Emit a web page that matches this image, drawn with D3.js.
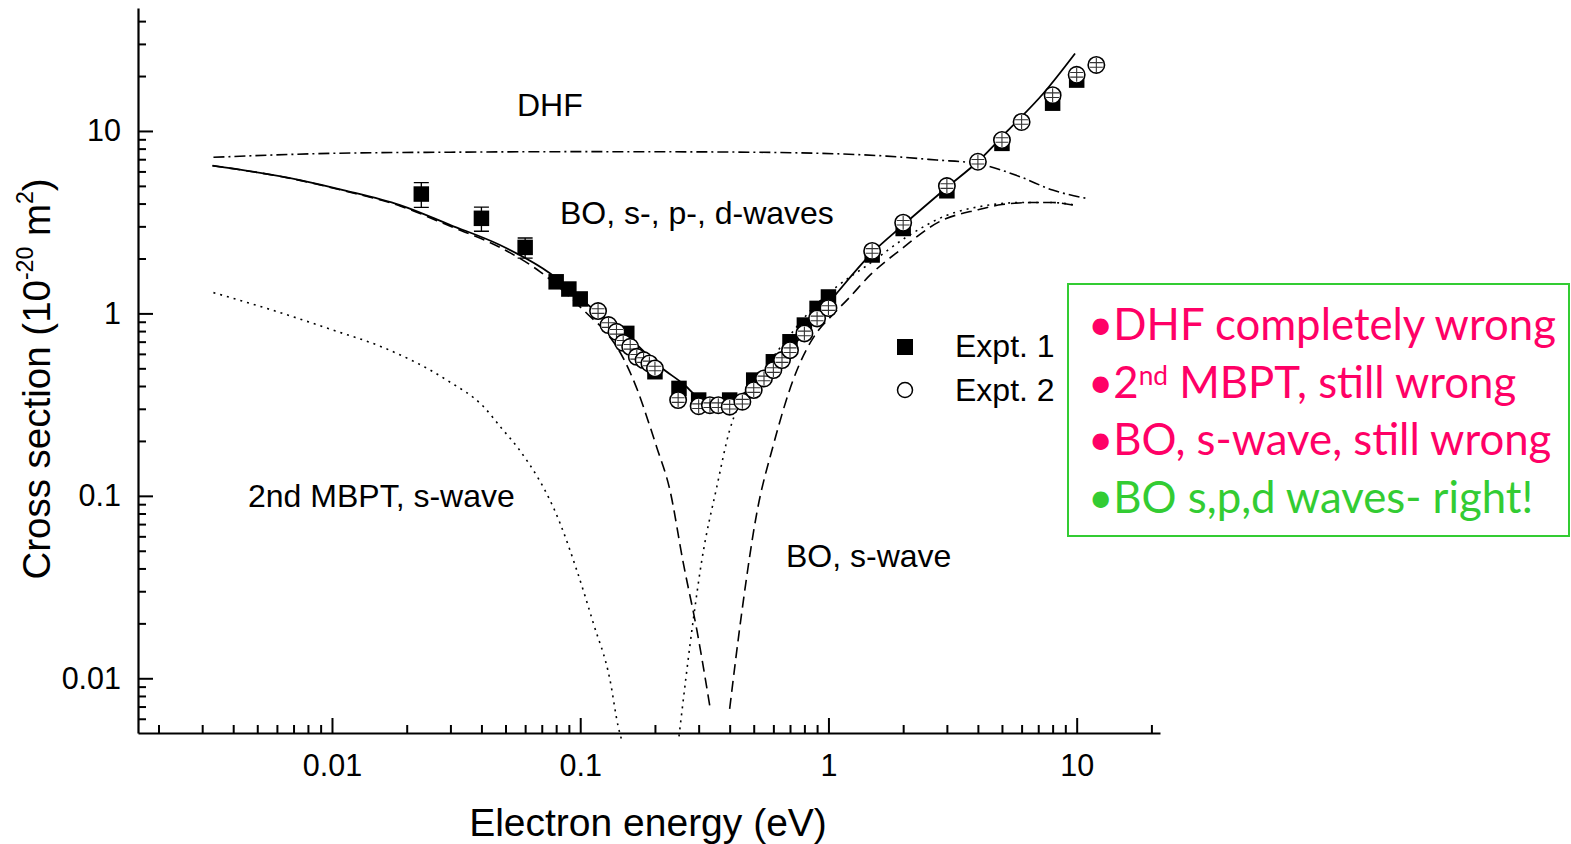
<!DOCTYPE html>
<html><head><meta charset="utf-8">
<script src="https://cdn.jsdelivr.net/npm/d3@7"></script>
<style>body{margin:0;background:#fff;} svg{display:block;}</style>
</head><body><svg id="c" width="1571" height="844"></svg>
<script>
// ---------- data (energy eV, cross section 1e-20 m^2) ----------
const xMajorTicks = [0.01, 0.1, 1, 10];
const yMajorTicks = [0.01, 0.1, 1, 10];
const xMinorTicks = [0.002,0.003,0.004,0.005,0.006,0.007,0.008,0.009,0.02,0.03,0.04,0.05,0.06,0.07,0.08,0.09,0.2,0.3,0.4,0.5,0.6,0.7,0.8,0.9,2,3,4,5,6,7,8,9,20];
const yMinorTicks = [0.006,0.007,0.008,0.009,0.02,0.03,0.04,0.05,0.06,0.07,0.08,0.09,0.2,0.3,0.4,0.5,0.6,0.7,0.8,0.9,2,3,4,5,6,7,8,9,20,30,40];

// Expt. 1 : [E, sigma, error]
const expt1 = [[0.0229,4.51,0.70],[0.040,3.32,0.50],[0.060,2.30,0.29],[0.080,1.49,0],[0.090,1.36,0],[0.100,1.20,0],
  [0.154,0.777,0],[0.200,0.479,0],[0.25,0.388,0],[0.30,0.335,0],[0.40,0.335,0],[0.5,0.431,0],[0.6,0.543,0],
  [0.7,0.699,0],[0.8,0.863,0],[0.9,1.065,0],[1.0,1.23,0],[1.5,2.09,0],[2.0,2.92,0],[3.0,4.70,0],[5.0,8.55,0],[8.0,14.2,0],[10,19.0,0]];
// Expt. 2 : [E, sigma]
const expt2 = [[0.118,1.03],[0.13,0.863],[0.14,0.793],[0.149,0.69],[0.159,0.656],[0.169,0.578],[0.18,0.555],[0.19,0.532],
  [0.2,0.499],[0.248,0.335],[0.3,0.31],[0.333,0.314],[0.36,0.314],[0.4,0.308],[0.45,0.328],[0.5,0.38],[0.55,0.44],
  [0.6,0.489],[0.65,0.555],[0.7,0.629],[0.8,0.777],[0.9,0.939],[1.0,1.07],[1.5,2.2],[2.0,3.14],[3.0,4.99],[4.0,6.78],
  [5.0,8.92],[6.0,11.2],[8.0,15.7],[10,20.3],[12,23.0]];

// theory curves
const boSPD = [[0.0033,6.45],[0.00743,5.38],[0.0111,4.74],[0.0188,3.92],[0.03,3.05],[0.0475,2.37],[0.0755,1.66],
  [0.1095,1.09],[0.154,0.76],[0.21,0.51],[0.264,0.404],[0.3,0.345],[0.35,0.325],[0.4,0.332],[0.5,0.40],[0.6,0.50],
  [0.7,0.63],[0.8,0.79],[0.92,1.0],[1.0,1.14],[1.5,2.15],[2,3.05],[3,4.9],[4,6.8],[5.3,10.1],[7.35,16.1],[9.85,26.6]];
const boSLeft = [[0.0033,6.45],[0.00743,5.36],[0.0111,4.71],[0.0188,3.88],[0.03,3.0],[0.0475,2.3],[0.069,1.69],
  [0.108,0.98],[0.13,0.76],[0.15,0.56],[0.17,0.38],[0.191,0.24],[0.203,0.186],[0.23,0.107],[0.26,0.043],[0.295,0.0184],[0.333,0.0070]];
const boSRight = [[0.40,0.0068],[0.447,0.0227],[0.514,0.080],[0.6,0.19],[0.72,0.43],[0.9,0.79],[1.0,0.93],[1.22,1.23],
  [1.47,1.62],[1.94,2.22],[2.82,3.2],[4,3.7],[5,3.95],[6.5,4.05],[8,4.05],[9.7,3.92]];
const mbptLeft = [[0.00333,1.30],[0.00546,1.065],[0.0101,0.81],[0.0161,0.65],[0.029,0.431],[0.0408,0.308],[0.0483,0.234],
  [0.0563,0.182],[0.083,0.0706],[0.0968,0.0392],[0.113,0.020],[0.1318,0.0098],[0.1424,0.0054],[0.1475,0.0045]];
const mbptRight = [[0.25,0.0048],[0.2855,0.021],[0.309,0.0444],[0.355,0.112],[0.40,0.229],[0.432,0.308],[0.5,0.41],
  [0.6,0.58],[0.7,0.76],[0.8,0.95],[0.9,1.13],[1.08,1.40],[1.47,1.88],[2.07,2.63],[3.0,3.45],[4.3,3.9],[6,4.05],[8,4.05],[9.8,3.93]];
const dhf = [[0.00333,7.17],[0.0101,7.54],[0.03,7.65],[0.1,7.7],[0.3,7.68],[0.925,7.54],[1.716,7.28],[2.73,6.93],
  [3.93,6.64],[5.92,5.61],[8.0,4.74],[10.98,4.27]];

const annotations = [["DHF",517,116],["BO, s-, p-, d-waves",560,224],["2nd MBPT, s-wave",248,507],["BO, s-wave",786,567]];
const legendLabels = ["Expt. 1","Expt. 2"];

// ---------- chart ----------
const svg = d3.select("#c");
const FONT = "'Liberation Sans', Arial, sans-serif";
const x = d3.scaleLog().domain([0.001654, 21.66]).range([138, 1160]);
const y = d3.scaleLog().domain([0.005013, 47.2]).range([733, 8]);

const line = d3.line().x(d => x(d[0])).y(d => y(d[1])).curve(d3.curveMonotoneX);
const curves = [
  {d: dhf, dash: "11,4,2,4", w: 1.6},
  {d: mbptLeft, dash: "2,5", w: 1.6},
  {d: mbptRight, dash: "2,5", w: 1.6},
  {d: boSLeft, dash: "11,6", w: 1.6},
  {d: boSRight, dash: "11,6", w: 1.6},
  {d: boSPD, dash: null, w: 1.8}
];
svg.append("g").selectAll("path").data(curves).join("path")
  .attr("d", c => line(c.d)).attr("fill","none").attr("stroke","#000")
  .attr("stroke-width", c => c.w).attr("stroke-dasharray", c => c.dash);

// Expt 1 squares with error bars
const g1 = svg.append("g");
const sq = 15.5;
g1.selectAll("rect").data(expt1).join("rect")
  .attr("x", d => x(d[0]) - sq/2).attr("y", d => y(d[1]) - sq/2)
  .attr("width", sq).attr("height", sq).attr("fill","#000");
const eb = expt1.filter(d => d[2] > 0);
g1.selectAll("path.eb").data(eb).join("path").attr("class","eb")
  .attr("d", d => {
    const cx = x(d[0]), t = y(d[1]+d[2]), b = y(d[1]-d[2]);
    return `M${cx},${t}V${b}M${cx-7.5},${t}H${cx+7.5}M${cx-7.5},${b}H${cx+7.5}`;
  }).attr("stroke","#000").attr("stroke-width",1.3).attr("fill","none");

// Expt 2 circles
const g2 = svg.append("g");
const r = 8.2;
const cg = g2.selectAll("g").data(expt2).join("g")
  .attr("transform", d => `translate(${x(d[0])},${y(d[1])})`);
cg.append("circle").attr("r", r).attr("fill","#fff").attr("stroke","#000").attr("stroke-width",1.6);
cg.append("path").attr("d", `M-6.5,-2.3H6.5M-6.5,2.3H6.5M0,-7V7`).attr("stroke","#333").attr("stroke-width",1.1);

// Axes
const axL = svg.append("g").attr("transform","translate(138,0)")
  .call(d3.axisLeft(y).tickValues(yMajorTicks).tickSizeInner(-15).tickSizeOuter(0).tickPadding(17).tickFormat(d3.format("")));
const axLm = svg.append("g").attr("transform","translate(138,0)")
  .call(d3.axisLeft(y).tickValues(yMinorTicks).tickSizeInner(-8).tickSizeOuter(0).tickFormat(""));
const axB = svg.append("g").attr("transform","translate(0,733)")
  .call(d3.axisBottom(x).tickValues(xMajorTicks).tickSizeInner(-15).tickSizeOuter(0).tickPadding(21).tickFormat(d3.format("")));
const axBm = svg.append("g").attr("transform","translate(0,733)")
  .call(d3.axisBottom(x).tickValues(xMinorTicks).tickSizeInner(-8).tickSizeOuter(0).tickFormat(""));
[axL, axLm, axB, axBm].forEach(a => {
  a.selectAll("path.domain").attr("stroke","#000").attr("stroke-width",2.2);
  a.selectAll(".tick line").attr("stroke","#000").attr("stroke-width",2);
  a.selectAll("text").attr("font-family",FONT).attr("font-size",30.5).attr("fill","#000");
});
axLm.select("path.domain").remove(); axBm.select("path.domain").remove();

// axis titles
svg.append("text").attr("x",648).attr("y",836).attr("text-anchor","middle")
  .attr("font-family",FONT).attr("font-size",39).text("Electron energy (eV)");
const yt = svg.append("text").attr("transform","translate(50,379) rotate(-90)").attr("text-anchor","middle")
  .attr("font-family",FONT).attr("font-size",38.5);
yt.append("tspan").text("Cross section (10");
yt.append("tspan").attr("dy",-17).attr("font-size",23).text("-20");
yt.append("tspan").attr("dy",17).text(" m");
yt.append("tspan").attr("dy",-17).attr("font-size",23).text("2");
yt.append("tspan").attr("dy",17).text(")");

// annotations
svg.append("g").selectAll("text").data(annotations).join("text")
  .attr("x", d => d[1]).attr("y", d => d[2]).attr("font-family",FONT).attr("font-size",32).text(d => d[0]);

// legend
svg.append("rect").attr("x",905-8).attr("y",347-8).attr("width",16).attr("height",16).attr("fill","#000");
svg.append("circle").attr("cx",905).attr("cy",390).attr("r",7.5).attr("fill","#fff").attr("stroke","#000").attr("stroke-width",1.5);
svg.append("g").selectAll("text").data(legendLabels).join("text")
  .attr("x",955).attr("y",(d,i) => 357 + i*44).attr("font-family",FONT).attr("font-size",32).text(d => d);

// green box with notes
svg.append("rect").attr("x",1068).attr("y",284).attr("width",501).attr("height",252)
  .attr("fill","none").attr("stroke","#33cc33").attr("stroke-width",2);
const PINK = "#ff0066", GREEN = "#33cc33";
const BF = "Lato, 'Open Sans', sans-serif";
const notes = svg.append("g").attr("font-family",BF);
const l1 = notes.append("text").attr("x",1088).attr("y",340).attr("fill",PINK).attr("font-size",40).text("\u2022DHF completely wrong");
const fs = 40 * 468 / l1.node().getComputedTextLength();
l1.attr("font-size", fs);
const l2 = notes.append("text").attr("x",1088).attr("y",398).attr("fill",PINK).attr("font-size",fs);
l2.append("tspan").text("\u20222");
l2.append("tspan").attr("dy",-fs*0.3).attr("font-size",fs*0.6).text("nd");
l2.append("tspan").attr("dy",fs*0.3).text(" MBPT, still wrong");
notes.append("text").attr("x",1088).attr("y",455).attr("fill",PINK).attr("font-size",fs).text("\u2022BO, s-wave, still wrong");
notes.append("text").attr("x",1088).attr("y",513).attr("fill",GREEN).attr("font-size",fs).text("\u2022BO s,p,d waves- right!");
</script></body></html>
